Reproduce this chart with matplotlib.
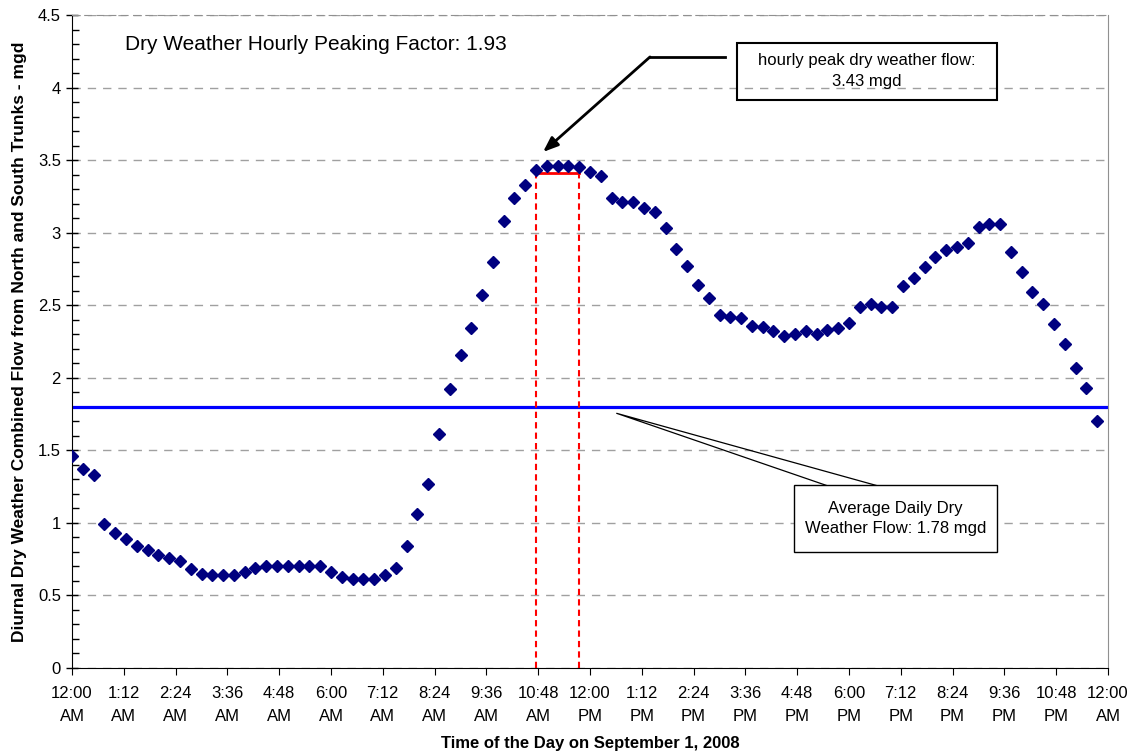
import matplotlib.pyplot as plt
from matplotlib.patches import Rectangle
from matplotlib.ticker import MultipleLocator
import numpy as np

plt.rcParams["font.family"] = ["Liberation Sans", "DejaVu Sans"]

# 15-minute flows over the day, mgd
FLOW = [
    1.46, 1.37, 1.33, 0.99, 0.93, 0.89, 0.84, 0.81, 0.78, 0.76, 0.74, 0.68,
    0.65, 0.64, 0.64, 0.64, 0.66, 0.69, 0.70, 0.70, 0.70, 0.70, 0.70, 0.70,
    0.66, 0.63, 0.61, 0.61, 0.61, 0.64, 0.69, 0.84, 1.06, 1.27, 1.61, 1.92,
    2.16, 2.34, 2.57, 2.80, 3.08, 3.24, 3.33, 3.43, 3.46, 3.46, 3.46, 3.45,
    3.42, 3.39, 3.24, 3.21, 3.21, 3.17, 3.14, 3.03, 2.89, 2.77, 2.64, 2.55,
    2.43, 2.42, 2.41, 2.36, 2.35, 2.32, 2.29, 2.30, 2.32, 2.30, 2.33, 2.34,
    2.38, 2.49, 2.51, 2.49, 2.49, 2.63, 2.69, 2.76, 2.83, 2.88, 2.90, 2.93,
    3.04, 3.06, 3.06, 2.87, 2.73, 2.59, 2.51, 2.37, 2.23, 2.07, 1.93, 1.70,
]
STEP_MIN = 15
AVG_FLOW = 1.80
PEAK_LEVEL = 3.41
PEAK_START_MIN = 645
PEAK_END_MIN = 705

TICK_MIN = np.arange(0, 1441, 72)
TICK_LABELS = [
    "12:00\nAM", "1:12\nAM", "2:24\nAM", "3:36\nAM", "4:48\nAM", "6:00\nAM",
    "7:12\nAM", "8:24\nAM", "9:36\nAM", "10:48\nAM", "12:00\nPM", "1:12\nPM",
    "2:24\nPM", "3:36\nPM", "4:48\nPM", "6:00\nPM", "7:12\nPM", "8:24\nPM",
    "9:36\nPM", "10:48\nPM", "12:00\nAM",
]

NARROW = ["Liberation Sans Narrow", "Liberation Sans", "DejaVu Sans"]

fig = plt.figure(figsize=(11.34, 7.55), dpi=100)
ax = fig.add_axes([72 / 1134, 87 / 755, 1036 / 1134, 653 / 755])

minutes = np.arange(len(FLOW)) * STEP_MIN
ax.axhline(AVG_FLOW, color="#0000FF", lw=2.3, zorder=2)
ax.plot([PEAK_START_MIN, PEAK_START_MIN], [0, PEAK_LEVEL], color="red", lw=1.5, ls=(0, (3, 2)), zorder=2)
ax.plot([PEAK_END_MIN, PEAK_END_MIN], [0, PEAK_LEVEL], color="red", lw=1.5, ls=(0, (3, 2)), zorder=2)
ax.plot([PEAK_START_MIN, PEAK_END_MIN], [PEAK_LEVEL, PEAK_LEVEL], color="red", lw=2, zorder=2)
ax.plot(minutes, FLOW, ls="none", marker="D", markersize=6, color="#000080", zorder=3)

ax.set_xlim(0, 1440)
ax.set_ylim(0, 4.5)
ax.set_xticks(TICK_MIN, TICK_LABELS, linespacing=1.7)
ax.yaxis.set_major_locator(MultipleLocator(0.5))
ax.yaxis.set_minor_locator(MultipleLocator(0.1))
ax.yaxis.set_major_formatter(plt.FuncFormatter(lambda v, _: f"{v:g}"))
ax.tick_params(axis="y", which="major", direction="inout", length=9, labelsize=12, width=1)
ax.tick_params(axis="y", which="minor", direction="in", length=5, width=1)
ax.tick_params(axis="x", direction="out", length=5, labelsize=12, pad=8)
ax.grid(axis="y", which="major", color="#A0A0A0", ls=(0, (6, 5)), lw=1)
ax.set_axisbelow(True)
for side in ("top", "right"):
    ax.spines[side].set_color("#909090")
ax.spines["top"].set_linestyle((0, (6, 5)))

ax.set_ylabel("Diurnal Dry Weather Combined Flow from North and South Trunks - mgd",
              fontsize=12.5, fontweight="bold", labelpad=8)
ax.set_xlabel("Time of the Day on September 1, 2008", fontsize=12, fontweight="bold", labelpad=8)

ax.text(73.7, 4.294, "Dry Weather Hourly Peaking Factor: 1.93", family=NARROW,
        fontsize=15, ha="left", va="center")

# peak callout
ax.add_patch(Rectangle((924.4, 3.915), 361.4, 0.392, fill=False, ec="black", lw=1.5, zorder=5))
ax.text(1105, 4.111, "hourly peak dry weather flow:\n3.43 mgd", family=NARROW, fontsize=12,
        ha="center", va="center", linespacing=1.5, zorder=6)
ax.plot([907.7, 803.4], [4.211, 4.211], color="black", lw=2, zorder=5)
ax.annotate("", xy=(654.7, 3.556), xytext=(803.4, 4.211),
            arrowprops=dict(arrowstyle="-|>,head_length=0.9,head_width=0.35", color="black", lw=2,
                            shrinkA=0, shrinkB=0))

# average callout
ax.add_patch(Rectangle((1003.6, 0.799), 282.2, 0.462, fill=True, fc="white", ec="black", lw=1, zorder=5))
ax.text(1144.7, 1.03, "Average Daily Dry\nWeather Flow: 1.78 mgd", family=NARROW, fontsize=12,
        ha="center", va="center", linespacing=1.4, zorder=6)
ax.plot([1049.9, 757.1, 1119.4], [1.256, 1.755, 1.256], color="black", lw=0.9, zorder=4)

fig.savefig("out.png", dpi=100, facecolor="white")
